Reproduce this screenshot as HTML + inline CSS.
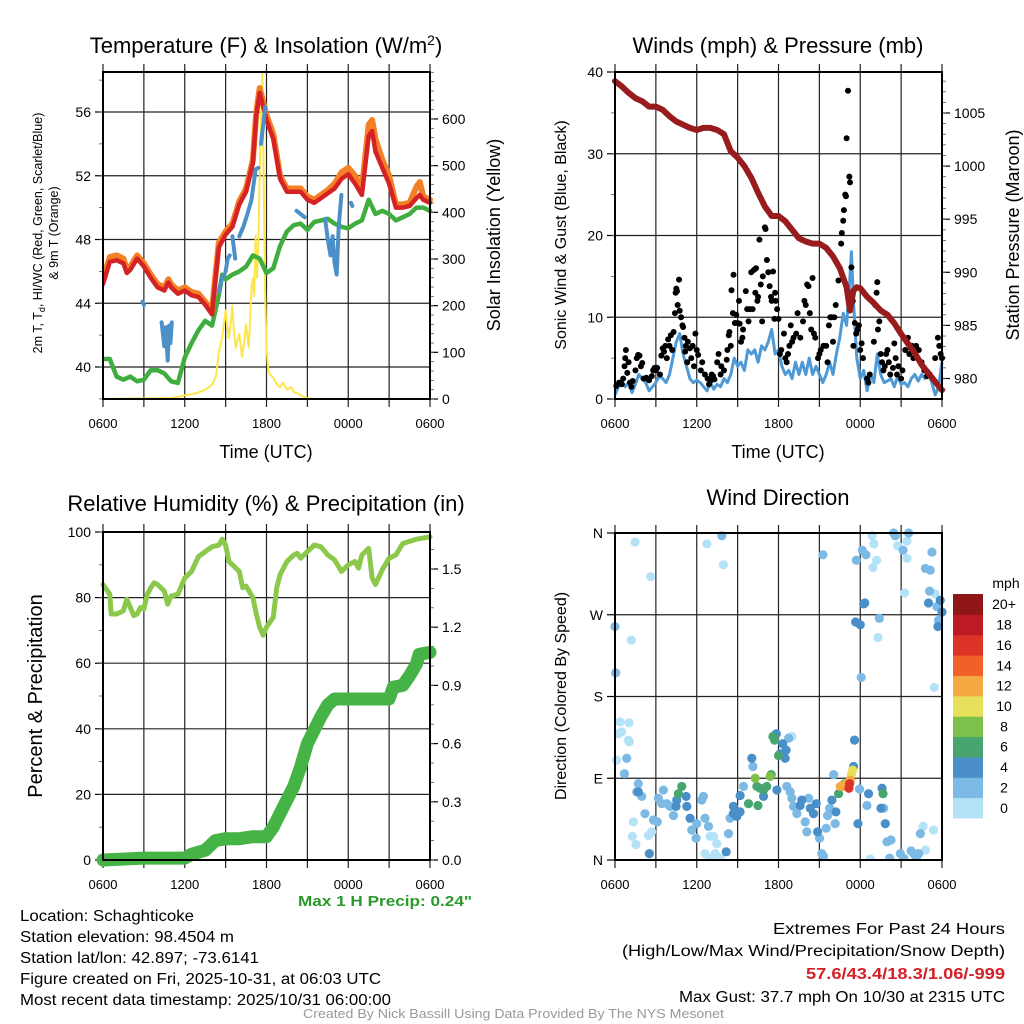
<!DOCTYPE html>
<html><head><meta charset="utf-8"><style>
html,body{margin:0;padding:0;background:#fff;}
svg{display:block;font-family:"Liberation Sans",sans-serif;}
</style></head><body>
<svg id="root" width="1024" height="1024" viewBox="0 0 1024 1024" xmlns="http://www.w3.org/2000/svg"></svg>
<script>
// ---------- DATA ----------
const timeTickLabels = ["0600","1200","1800","0000","0600"];
const tempH = [0,0.5,1,1.5,1.75,2,2.5,3,3.5,4,4.5,4.8,5,5.5,6,6.5,7,7.5,8,8.2,8.5,9,9.5,10,10.5,11,11.25,11.5,12,12.5,13,13.5,14,14.5,15,15.5,16,16.5,17,17.5,18,18.5,19,19.5,19.75,20,20.5,21,21.5,22,22.5,23,23.25,23.5,24];
const redT = [45.2,46.6,46.7,46.5,45.9,46.1,46.8,46.3,45.6,45.0,44.8,45.3,45.0,44.6,44.8,44.5,44.4,43.9,43.3,45.0,47.5,48.3,48.8,50.2,51.0,52.8,55.8,57.2,55.5,54.3,51.8,51.0,51.0,51.0,50.5,50.3,50.6,50.9,51.2,51.8,52.1,51.5,50.8,54.5,54.8,53.5,52.5,51.5,50.0,50.0,50.1,50.6,50.8,50.5,50.3];
const orangeT = [45.5,46.9,47.0,46.8,46.1,46.3,47.0,46.5,45.8,45.2,45.0,45.5,45.2,44.8,45.0,44.7,44.6,44.1,43.5,45.3,47.8,48.5,49.0,50.4,51.2,53.0,56.0,57.5,55.8,54.6,52.0,51.2,51.2,51.2,50.7,50.5,50.8,51.1,51.5,52.2,52.5,52.0,51.2,55.2,55.5,54.3,53.0,52.0,50.2,50.2,50.3,51.3,51.6,50.7,50.5];
const greenH = [0,0.5,1,1.5,2,2.5,3,3.5,4,4.5,5,5.5,6,6.5,7,7.5,8,8.5,8.75,9,9.5,10,10.5,11,11.5,12,12.5,13,13.5,14,14.5,15,15.5,16,16.5,17,17.5,18,18.5,19,19.5,20,20.5,21,21.5,22,22.5,23,23.5,24];
const greenT = [40.5,40.5,39.4,39.2,39.4,39.1,39.2,39.8,39.8,39.6,39.1,39.0,40.6,41.5,42.3,42.9,42.6,44.5,45.8,45.5,45.8,46.0,46.3,47.0,46.8,45.9,46.2,47.6,48.5,48.9,49.0,48.6,49.1,49.2,49.3,49.0,48.8,48.7,49.0,49.2,50.5,49.6,49.8,49.6,49.2,49.4,49.6,50.0,50.0,49.8];
const blueSegH = [[2.9,3.0],[4.3,4.5,4.6,4.75,4.85,4.95,5.05],[8.5,8.7,8.9],[9.0,9.15,9.3],[9.5,9.7],[10.0,10.3,10.6,10.9,11.2,11.4],[11.6,11.8,11.9],[14.2,14.5,14.8],[16.3,16.5,16.7,16.85,17.0,17.15,17.3,17.5],[18.2,18.3]];
const blueSegT = [[44.1,43.9],[42.8,41.3,42.5,40.4,42.6,41.5,42.8],[44.7,45.5,45.8],[46.0,46.8,47.0],[48.2,46.8],[48.2,48.8,49.6,50.5,52.4,52.5],[54.0,55.5,56.3],[49.8,49.6,49.4],[49.3,48.0,47.0,48.2,46.5,45.8,48.8,50.8],[50.3,50.1]];
const solarH = [0,5,6,6.5,7,7.5,8,8.3,8.5,8.75,9,9.1,9.25,9.4,9.5,9.6,9.75,10,10.2,10.4,10.5,10.7,10.9,11,11.1,11.2,11.3,11.4,11.5,11.6,11.7,11.8,11.9,12.0,12.1,12.2,12.5,12.8,13,13.2,13.5,13.8,14,14.3,14.7,15,15.5,24];
const solarW = [0,2,8,10,14,20,30,50,100,130,190,160,130,170,200,150,110,140,90,130,160,110,240,260,220,350,260,330,480,610,700,450,230,110,70,55,45,30,25,35,20,25,15,12,5,2,0,0];
const presH = [0,0.5,1,1.5,2,2.5,3,3.5,4,4.5,5,5.5,6,6.5,7,7.5,8,8.5,9,9.5,10,10.5,11,11.5,12,12.5,13,13.5,14,14.5,15,15.5,16,16.5,17,17.25,17.5,17.75,18,18.5,19,19.5,20,20.5,21,21.5,22,22.5,23,23.5,24];
const presMb = [1008.0,1007.5,1006.9,1006.4,1006.1,1005.6,1005.6,1005.3,1004.7,1004.2,1003.9,1003.6,1003.4,1003.6,1003.6,1003.4,1003.0,1001.4,1000.8,1000.0,998.9,997.5,996.2,995.3,995.3,994.8,994.0,993.2,992.9,992.7,992.7,992.3,991.5,990.4,988.6,986.4,988.3,988.6,988.5,987.7,987.1,986.4,986.0,985.2,984.2,983.3,982.4,981.3,980.5,979.7,978.9];
const windH = [0,0.25,0.5,0.75,1,1.25,1.5,1.75,2,2.25,2.5,2.75,3,3.25,3.5,3.75,4,4.25,4.5,4.75,5,5.25,5.5,5.75,6,6.25,6.5,6.75,7,7.25,7.5,7.75,8,8.25,8.5,8.75,9,9.25,9.5,9.75,10,10.25,10.5,10.75,11,11.25,11.5,11.75,12,12.25,12.5,12.75,13,13.25,13.5,13.75,14,14.25,14.5,14.75,15,15.25,15.5,15.75,16,16.25,16.5,16.75,17,17.25,17.35,17.5,17.75,18,18.25,18.5,18.75,19,19.25,19.5,19.75,20,20.25,20.5,20.75,21,21.25,21.5,21.75,22,22.25,22.5,22.75,23,23.25,23.5,23.75,24];
const windV = [0.5,1.5,2.2,1.5,2.0,0.8,1.8,3.0,2.5,2.0,1.0,1.5,2.0,2.8,2.5,2.0,3.0,5.0,7.0,8.0,5.5,4.0,2.5,2.0,2.3,2.0,1.5,1.0,2.0,1.2,1.8,1.5,2.5,2.0,3.0,5.0,4.0,4.5,3.5,6.0,5.5,6.0,4.5,6.5,6.0,7.0,8.5,5.5,6.0,4.0,3.0,3.5,2.5,4.5,3.0,4.5,3.0,5.0,3.0,4.0,3.0,2.0,3.0,4.5,3.0,5.5,7.5,10.5,9.0,15.0,18.0,12.0,5.0,2.5,3.5,1.0,3.0,2.0,5.5,3.0,2.0,2.2,2.5,1.5,2.8,1.8,2.0,1.5,2.5,3.0,2.2,3.0,2.5,3.5,2.0,0.5,1.5,4.5];
const gustH = [0.1,0.3,0.5,0.6,0.7,0.75,0.8,0.9,1.0,1.1,1.2,1.3,1.5,1.6,1.7,1.8,1.9,2.0,2.1,2.3,2.5,2.7,2.8,2.9,3.0,3.1,3.3,3.4,3.5,3.6,3.7,3.8,3.9,4.0,4.1,4.2,4.3,4.4,4.45,4.5,4.55,4.6,4.7,4.75,4.85,4.95,5.0,5.1,5.15,5.2,5.3,5.35,5.5,5.6,5.7,5.8,5.9,6.0,6.1,6.3,6.4,6.6,6.8,6.9,7.0,7.1,7.2,7.3,7.5,7.6,7.75,7.8,8.0,8.2,8.25,8.35,8.4,8.5,8.55,8.65,8.7,8.8,8.9,9.0,9.1,9.15,9.25,9.35,9.4,9.6,9.7,9.8,9.9,10.0,10.1,10.2,10.3,10.35,10.45,10.5,10.6,10.7,10.8,10.85,11.0,11.05,11.15,11.25,11.35,11.45,11.5,11.6,11.7,11.75,11.8,11.9,12.0,12.1,12.2,12.4,12.5,12.6,12.7,12.8,12.9,13.0,13.1,13.3,13.4,13.6,13.8,13.9,14.0,14.1,14.2,14.3,14.4,14.5,14.6,14.7,14.9,15.0,15.1,15.3,15.5,15.6,15.7,15.8,15.9,16.0,16.1,16.2,16.4,16.5,16.6,16.65,16.75,16.8,16.9,16.95,17.0,17.1,17.2,17.25,17.35,17.45,17.5,17.6,17.7,17.8,17.9,18.0,18.1,18.2,18.5,18.6,18.7,19.0,19.1,19.2,19.25,19.3,19.4,19.5,19.6,19.7,19.8,19.9,20.0,20.1,20.2,20.4,20.5,20.6,20.7,20.8,21.0,21.1,21.3,21.5,21.6,21.7,21.8,21.9,22.0,22.1,22.3,22.5,22.7,22.9,23.1,23.3,23.5,23.7,23.8,23.9,24.0];
const gustV = [1.6,2.0,1.8,2.5,4.0,5.0,6.0,3.2,4.5,2.0,1.5,2.2,3.5,5.0,5.4,5.3,4.0,4.4,2.5,2.6,2.3,2.8,3.5,3.8,3.5,3.8,3.0,5.3,6.2,5.8,6.5,5.0,7.3,6.5,7.8,6.0,8.2,10.5,13.0,13.5,13.2,11.5,14.6,10.8,10.0,9.0,8.8,7.5,5.8,6.5,4.5,7.0,6.2,5.0,6.5,4.0,8.0,6.0,5.4,3.5,4.5,3.0,2.5,1.8,2.2,3.0,2.8,2.4,4.5,5.5,3.0,4.0,3.5,4.8,6.0,7.8,8.2,6.5,13.3,10.5,15.2,9.3,10.3,9.3,12.0,9.2,7.0,7.5,8.5,13.2,11.0,9.5,11.0,15.5,11.0,15.8,13.0,16.0,12.0,12.5,19.5,14.0,9.5,15.0,21.0,20.8,17.0,15.5,13.8,12.5,12.0,15.6,9.8,13.0,12.0,11.0,9.8,5.5,6.0,8.0,5.0,4.5,5.5,6.5,9.0,7.0,7.5,8.0,10.5,7.5,9.5,12.0,11.5,14.0,13.8,10.5,8.5,14.8,8.0,7.5,5.0,5.5,6.0,6.5,6.5,4.5,9.0,10.0,10.0,7.0,10.0,11.5,14.5,16.0,19.0,20.3,21.8,23.1,25.0,24.8,31.9,37.7,27.2,26.5,16.1,12.0,6.5,9.3,8.0,8.5,9.0,6.0,6.8,5.0,2.5,2.0,3.0,7.0,11.5,13.0,14.3,8.5,9.5,5.5,4.5,3.5,4.0,5.5,6.0,4.5,3.0,3.8,6.8,5.0,3.0,4.0,2.5,3.5,6.0,7.5,5.5,6.2,6.5,5.0,5.8,6.5,6.0,4.5,3.5,2.8,3.0,2.5,5.0,7.5,6.5,5.5,5.0];
const dirH = [0.0,0.05,1.47,2.62,1.2,0.37,0.49,1.03,0.24,0.98,1.05,0.12,0.86,0.69,1.71,1.71,1.59,1.96,1.35,1.27,1.54,2.2,2.45,2.69,2.52,2.82,3.11,3.18,3.43,3.55,3.8,4.04,4.29,4.48,4.53,4.65,4.9,5.22,5.27,5.51,5.63,5.95,6.0,6.37,6.49,6.61,6.74,6.86,6.98,7.23,7.47,6.61,6.98,7.71,7.35,7.84,7.96,8.16,8.33,8.45,8.69,8.69,8.94,9.18,9.18,9.43,9.8,10.04,10.12,10.29,10.49,10.41,10.65,10.9,10.9,11.14,11.39,11.46,11.59,11.71,11.84,11.88,12.0,12.12,12.31,12.56,12.49,12.74,12.98,12.61,12.86,12.98,13.1,13.35,13.59,13.71,13.96,14.08,14.21,14.33,14.57,14.77,14.87,15.01,15.18,15.3,15.26,15.5,15.6,15.75,15.92,16.05,16.21,16.16,16.41,16.53,16.73,16.83,17.02,17.22,17.17,17.27,17.35,17.44,17.51,17.58,17.71,17.83,17.95,18.07,18.15,18.25,18.33,18.42,17.66,18.0,18.49,18.61,18.74,18.93,18.87,19.0,19.2,19.3,19.4,19.52,19.6,19.67,19.72,19.84,19.96,20.16,20.26,20.45,20.57,20.75,21.14,21.26,21.43,21.55,21.43,20.94,21.19,21.73,21.92,22.12,22.29,22.41,22.61,22.78,22.78,23.14,23.26,23.09,23.01,23.5,23.63,23.75,23.7,23.87,24.0,23.38,23.43];
const dirDeg = [257,206,350,312,242,152,141,151,139,132,130,110,112,95,84,75,75,70,42,26,17,51,27,31,7,44,42,68,62,77,62,59,49,59,66,73,81,70,59,46,33,24,40,66,70,46,348,37,26,26,18,7,2,2,7,357,325,9,29,46,51,59,48,53,71,81,62,112,103,90,60,81,79,77,70,81,92,94,136,132,139,77,115,117,128,121,112,134,136,81,75,68,59,51,60,66,42,31,68,57,51,62,31,24,7,4,336,35,49,57,66,94,53,40,73,81,81,84,84,84,79,88,94,99,103,132,330,40,78,201,341,282,283,336,262,259,60,73,1,322,357,348,330,245,266,57,79,73,57,40,20,2,22,360,357,346,341,294,332,360,351,7,2,10,7,2,7,29,37,11,321,319,339,296,283,293,279,264,257,286,273,33,190];
const dirSpd = [3,3,1,1,1,1,1,1,1,1,1,1,3,3,3,5,3,3,1,1,1,3,1,1,5,3,3,3,3,3,3,3,3,5,5,7,7,5,5,5,3,3,3,3,3,3,1,3,1,1,1,1,1,1,1,3,1,5,3,3,5,5,5,5,5,3,7,5,3,9,7,7,7,7,5,7,9,7,7,7,5,5,7,5,5,5,5,3,1,3,3,3,3,3,5,5,3,3,3,5,5,5,5,3,3,3,3,3,3,3,5,3,5,3,7,13,13,9,13,17,17,13,11,11,5,5,3,5,3,3,3,5,5,3,5,5,3,5,1,1,1,1,1,1,3,5,5,7,3,5,3,3,3,3,3,1,3,1,1,3,1,3,3,3,3,3,3,3,1,1,3,3,3,3,5,1,3,3,5,5,5,1,1];
const precipH = [0,3,6,6.5,7.5,8.25,9,10,11,12,12.5,13,13.5,14,14.5,15,15.5,16,16.5,17,18,20,21,21.3,22,22.5,23,23.2,24];
const precipIn = [0,0.01,0.01,0.03,0.05,0.1,0.11,0.11,0.12,0.12,0.17,0.24,0.31,0.38,0.48,0.6,0.67,0.74,0.8,0.83,0.83,0.83,0.83,0.89,0.9,0.95,1.01,1.06,1.07];
const rhH = [0,0.5,0.6,1,1.5,1.75,2,2.25,2.5,2.75,3,3.25,3.5,3.75,4,4.5,4.75,5,5.5,6,6.5,7,7.5,8,8.5,8.75,9,9.25,9.5,10,10.25,10.5,11,11.25,11.5,11.75,12,12.5,12.75,13,13.5,14,14.25,14.5,15,15.5,16,16.5,17,17.5,18,18.5,18.75,19,19.5,19.75,20,20.5,21,21.5,22,23,24];
const rhPct = [84,81,75,75,76,79.5,77,74.5,75,77,76.5,81,83,84.5,84,82,78,80.5,81,86,88,92.5,94,95.5,96,97.8,96,91,90,88,83,83.5,80,75,71,68.5,71,74,83,87,91,93,93.5,92,94,96,95.5,93,91.5,88,90,91,89,93,95,86,84,88.5,92,93,96.5,97.8,98.5];
const tempTicks=[40,44,48,52,56], solarTicks=[0,100,200,300,400,500,600];
const windTicks=[0,10,20,30,40], presTicks=[980,985,990,995,1000,1005];
const rhTicks=[0,20,40,60,80,100], prTicks=[0,0.3,0.6,0.9,1.2,1.5];
const dirTicks=[0,90,180,270,360], dirTickLabels=["N","E","S","W","N"];
const legendLabels=["0","2","4","6","8","10","12","14","16","18","20+"];
const legendColors=["#b4e3f8","#7db9e5","#4a8fc7","#48a56f","#7dc14b","#e7e05a","#f6a843","#ef6129","#dc3227","#bc1b23","#8f1517"];

// ---------- HELPERS ----------
const NS="http://www.w3.org/2000/svg";
const root=document.getElementById('root');
function mk(tag,attrs,parent){const e=document.createElementNS(NS,tag);for(const k in attrs)e.setAttribute(k,attrs[k]);(parent||root).appendChild(e);return e;}
function txt(s,attrs,parent){const e=mk('text',attrs,parent);e.textContent=s;return e;}
function scale(d0,d1,r0,r1){return v=>r0+(v-d0)*(r1-r0)/(d1-d0);}
function pathFrom(xs,ys,fx,fy){return xs.map((x,i)=>(i?'L':'M')+fx(x).toFixed(1)+' '+fy(ys[i]).toFixed(1)).join(' ');}

function frame(g,L,R,T,B,fx){
  // vertical grid + x ticks
  for(let h=0;h<=24;h+=3){const x=fx(h);
    const gl=mk('line',{x1:x,y1:T-8,x2:x,y2:B+8,stroke:'#222','stroke-width':1.2},g);
    
    
  }
  timeTickLabels.forEach((s,i)=>{const t=txt(s,{x:fx(i*6),y:B+29,'font-size':13,'text-anchor':'middle'},g);
    
    });
}
function yAxis(g,L,R,ticks,labels,fy,side,minorStep,dmin,dmax,grid){
  ticks.forEach((v,i)=>{const y=fy(v);
    if(grid){const gl=mk('line',{x1:L,y1:y,x2:R,y2:y,stroke:'#222','stroke-width':1.2},g);
      
      }
    const x0=side==='left'?L:R, dx=side==='left'?-8:8;
    mk('line',{x1:x0,y1:y,x2:x0+dx,y2:y,stroke:'#000','stroke-width':1.2},g);
    const t=txt(labels[i],{x:x0+(side==='left'?-12:12),y:y+5,'font-size':14,'text-anchor':side==='left'?'end':'start'},g);
    
    
  });
  if(minorStep){for(let v=Math.ceil(dmin/minorStep)*minorStep;v<=dmax+1e-9;v+=minorStep){const y=fy(v);
    const x0=side==='left'?L:R, dx=side==='left'?-4:4;
    mk('line',{x1:x0,y1:y,x2:x0+dx,y2:y,stroke:'#555','stroke-width':0.8},g);}}
}
function box(g,L,R,T,B){const r=mk('rect',{x:L,y:T,width:R-L,height:B-T,fill:'none',stroke:'#000','stroke-width':2},g);
  
  }

// ---------- PANEL 1: Temperature ----------
(function(){
  const g=mk('g',{});
  
  
  const L=103,R=430,T=72,B=399;
  const fx=scale(0,24,L,R), fy=scale(40,56,367,112), fs=scale(0,700,399,72.3);
  frame(g,L,R,T,B,fx);
  yAxis(g,L,R,tempTicks,tempTicks.map(String),fy,'left',2,38,58.4,true);
  yAxis(g,L,R,solarTicks,solarTicks.map(String),fs,'right',20,0,700,false);
  const cp=mk('clipPath',{id:'c1'},g);mk('rect',{x:L,y:T-10,width:R-L+4,height:B-T+10},cp);
  const pg=mk('g',{'clip-path':'url(#c1)'},g);
  let p;
  p=mk('path',{d:pathFrom(solarH,solarW,fx,fs),fill:'none',stroke:'#fde64b','stroke-width':2,'stroke-linejoin':'round'},pg);
  
  p=mk('path',{d:pathFrom(greenH,greenT,fx,fy),fill:'none',stroke:'#3fae3f','stroke-width':4.5,'stroke-linejoin':'round','stroke-linecap':'round'},pg);
  
  p=mk('path',{d:pathFrom(tempH,orangeT,fx,fy),fill:'none',stroke:'#f57f25','stroke-width':6,'stroke-linejoin':'round','stroke-linecap':'round'},pg);
  
  p=mk('path',{d:pathFrom(tempH,redT,fx,fy),fill:'none',stroke:'#d42225','stroke-width':4.5,'stroke-linejoin':'round','stroke-linecap':'round'},pg);
  
  blueSegH.forEach((hs,i)=>{const q=mk('path',{d:pathFrom(hs,blueSegT[i],fx,fy),fill:'none',stroke:'#4b90c9','stroke-width':4,'stroke-linejoin':'round','stroke-linecap':'round'},pg);
    });
  box(g,L,R,T,B);
  let t=mk('text',{x:266,y:53,'font-size':22,'text-anchor':'middle'},g);
  t.innerHTML='Temperature (F) &amp; Insolation (W/m<tspan dy="-8" font-size="14">2</tspan><tspan dy="8">)</tspan>';
  
  t=txt('Time (UTC)',{x:266,y:458,'font-size':18,'text-anchor':'middle'},g);
  
  t=mk('text',{x:0,y:0,'font-size':12.5,'text-anchor':'middle',transform:'translate(42,233) rotate(-90)'},g);
  t.innerHTML='2m T, T<tspan dy="3" font-size="9">d</tspan><tspan dy="-3">, HI/WC (Red, Green, Scarlet/Blue)</tspan>';
  
  t=txt('& 9m T (Orange)',{x:0,y:0,'font-size':12.5,'text-anchor':'middle',transform:'translate(58,233) rotate(-90)'},g);
  
  t=txt('Solar Insolation (Yellow)',{x:0,y:0,'font-size':18,'text-anchor':'middle',transform:'translate(500,235) rotate(-90)'},g);
  
})();

// ---------- PANEL 2: Winds & Pressure ----------
(function(){
  const g=mk('g',{});
  
  
  const L=615,R=942,T=72,B=399;
  const fx=scale(0,24,L,R), fy=scale(0,40,399,72), fp=scale(980,1005,378.5,113);
  frame(g,L,R,T,B,fx);
  yAxis(g,L,R,windTicks,windTicks.map(String),fy,'left',5,0,40,true);
  yAxis(g,L,R,presTicks,presTicks.map(String),fp,'right',1,979,1008,false);
  const cp=mk('clipPath',{id:'c2'},g);mk('rect',{x:L-4,y:T-4,width:R-L+8,height:B-T+6},cp);
  const pg=mk('g',{'clip-path':'url(#c2)'},g);
  let p=mk('path',{d:pathFrom(windH,windV,fx,fy),fill:'none',stroke:'#4f9ad6','stroke-width':3,'stroke-linejoin':'round'},pg);
  
  gustH.forEach((h,i)=>{const c=mk('circle',{cx:fx(h),cy:fy(gustV[i]),r:3,fill:'#000'},pg);
    
    });
  p=mk('path',{d:pathFrom(presH,presMb,fx,fp),fill:'none',stroke:'#981b1e','stroke-width':6,'stroke-linejoin':'round','stroke-linecap':'round'},pg);
  
  box(g,L,R,T,B);
  let t=txt('Winds (mph) & Pressure (mb)',{x:778,y:53,'font-size':22,'text-anchor':'middle'},g);
  
  t=txt('Time (UTC)',{x:778,y:458,'font-size':18,'text-anchor':'middle'},g);
  
  t=txt('Sonic Wind & Gust (Blue, Black)',{x:0,y:0,'font-size':16,'text-anchor':'middle',transform:'translate(566,235) rotate(-90)'},g);
  
  t=txt('Station Pressure (Maroon)',{x:0,y:0,'font-size':18,'text-anchor':'middle',transform:'translate(1019,235) rotate(-90)'},g);
  
})();

// ---------- PANEL 3: RH & Precip ----------
(function(){
  const g=mk('g',{});
  
  
  const L=103,R=430,T=532,B=860;
  const fx=scale(0,24,L,R), fy=scale(0,100,860,532), fpr=scale(0,1.5,860,569);
  frame(g,L,R,T,B,fx);
  yAxis(g,L,R,rhTicks,rhTicks.map(String),fy,'left',10,0,100,true);
  yAxis(g,L,R,prTicks,prTicks.map(v=>v.toFixed(1)),fpr,'right',0.1,0,1.65,false);
  let p=mk('path',{d:pathFrom(rhH,rhPct,fx,fy),fill:'none',stroke:'#8cc84b','stroke-width':5,'stroke-linejoin':'round','stroke-linecap':'round'},g);
  
  p=mk('path',{d:pathFrom(precipH,precipIn,fx,fpr),fill:'none',stroke:'#45b345','stroke-width':13,'stroke-linejoin':'round','stroke-linecap':'round'},g);
  
  box(g,L,R,T,B);
  let t=txt('Relative Humidity (%) & Precipitation (in)',{x:266,y:511,'font-size':22,'text-anchor':'middle'},g);
  
  t=txt('Percent & Precipitation',{x:0,y:0,'font-size':20,'text-anchor':'middle',transform:'translate(42,696) rotate(-90)'},g);
  
  t=txt('Max 1 H Precip: 0.24"',{x:298,y:906,'font-size':15,'font-weight':'bold',fill:'#2a9a2a',textLength:174,lengthAdjust:'spacingAndGlyphs'},g);
  
})();

// ---------- PANEL 4: Wind Direction ----------
(function(){
  const g=mk('g',{});
  
  
  const L=615,R=942,T=533,B=860;
  const fx=scale(0,24,L,R), fy=scale(0,360,860,533);
  frame(g,L,R,T,B,fx);
  yAxis(g,L,R,dirTicks,dirTickLabels,fy,'left',0,0,0,true);
  const cp=mk('clipPath',{id:'c4'},g);mk('rect',{x:L-6,y:T-6,width:R-L+12,height:B-T+6},cp);
  const pg=mk('g',{'clip-path':'url(#c4)'},g);
  const order=dirH.map((_,i)=>i).sort((a,b)=>dirSpd[a]-dirSpd[b]);
  order.forEach(i=>{const idx=Math.min(10,Math.floor(dirSpd[i]/2));
    const c=mk('circle',{cx:fx(dirH[i]),cy:fy(dirDeg[i]),r:4.6,fill:legendColors[idx]},pg);
    
    });
  box(g,L,R,T,B);
  let t=txt('Wind Direction',{x:778,y:505,'font-size':22,'text-anchor':'middle'},g);
  
  t=txt('Direction (Colored By Speed)',{x:0,y:0,'font-size':16,'text-anchor':'middle',transform:'translate(566,696) rotate(-90)'},g);
  
  const lg=mk('g',{},g);
  
  
  const h=224/11;
  legendColors.forEach((col,i)=>{const y=818-(i+1)*h;
    const r=mk('rect',{x:953,y:y,width:30,height:h+0.5,fill:col},lg);
    
    
    const tl=txt(legendLabels[i],{x:1004,y:y+h/2+5,'font-size':14,'text-anchor':'middle'},lg);
    
    });
  t=txt('mph',{x:1006,y:588,'font-size':14,'text-anchor':'middle'},lg);
  
})();

// ---------- FOOTER ----------
(function(){
  const g=mk('g',{});
  
  
  const left=[["Location: Schaghticoke",921,174],["Station elevation: 98.4504 m",942,214],["Station lat/lon: 42.897; -73.6141",963,239],["Figure created on Fri, 2025-10-31, at 06:03 UTC",984,361],["Most recent data timestamp: 2025/10/31 06:00:00",1005,371]];
  left.forEach(a=>{const t=txt(a[0],{x:20,y:a[1],'font-size':15.5,textLength:a[2],lengthAdjust:'spacingAndGlyphs'},g);
    });
  const right=[["Extremes For Past 24 Hours",934,232,'#000',''],["(High/Low/Max Wind/Precipitation/Snow Depth)",956,383,'#000',''],["57.6/43.4/18.3/1.06/-999",979,199,'#d42027','bold'],["Max Gust: 37.7 mph On 10/30 at 2315 UTC",1002,326,'#000','']];
  right.forEach(a=>{const t=txt(a[0],{x:1005-a[2],y:a[1],'font-size':15.5,fill:a[3],'font-weight':a[4]||'normal',textLength:a[2],lengthAdjust:'spacingAndGlyphs'},g);
    });
  const t=txt('Created By Nick Bassill Using Data Provided By The NYS Mesonet',{x:303,y:1018,'font-size':12.5,fill:'#999',textLength:421,lengthAdjust:'spacingAndGlyphs'},g);
  
})();
</script>
</body></html>
